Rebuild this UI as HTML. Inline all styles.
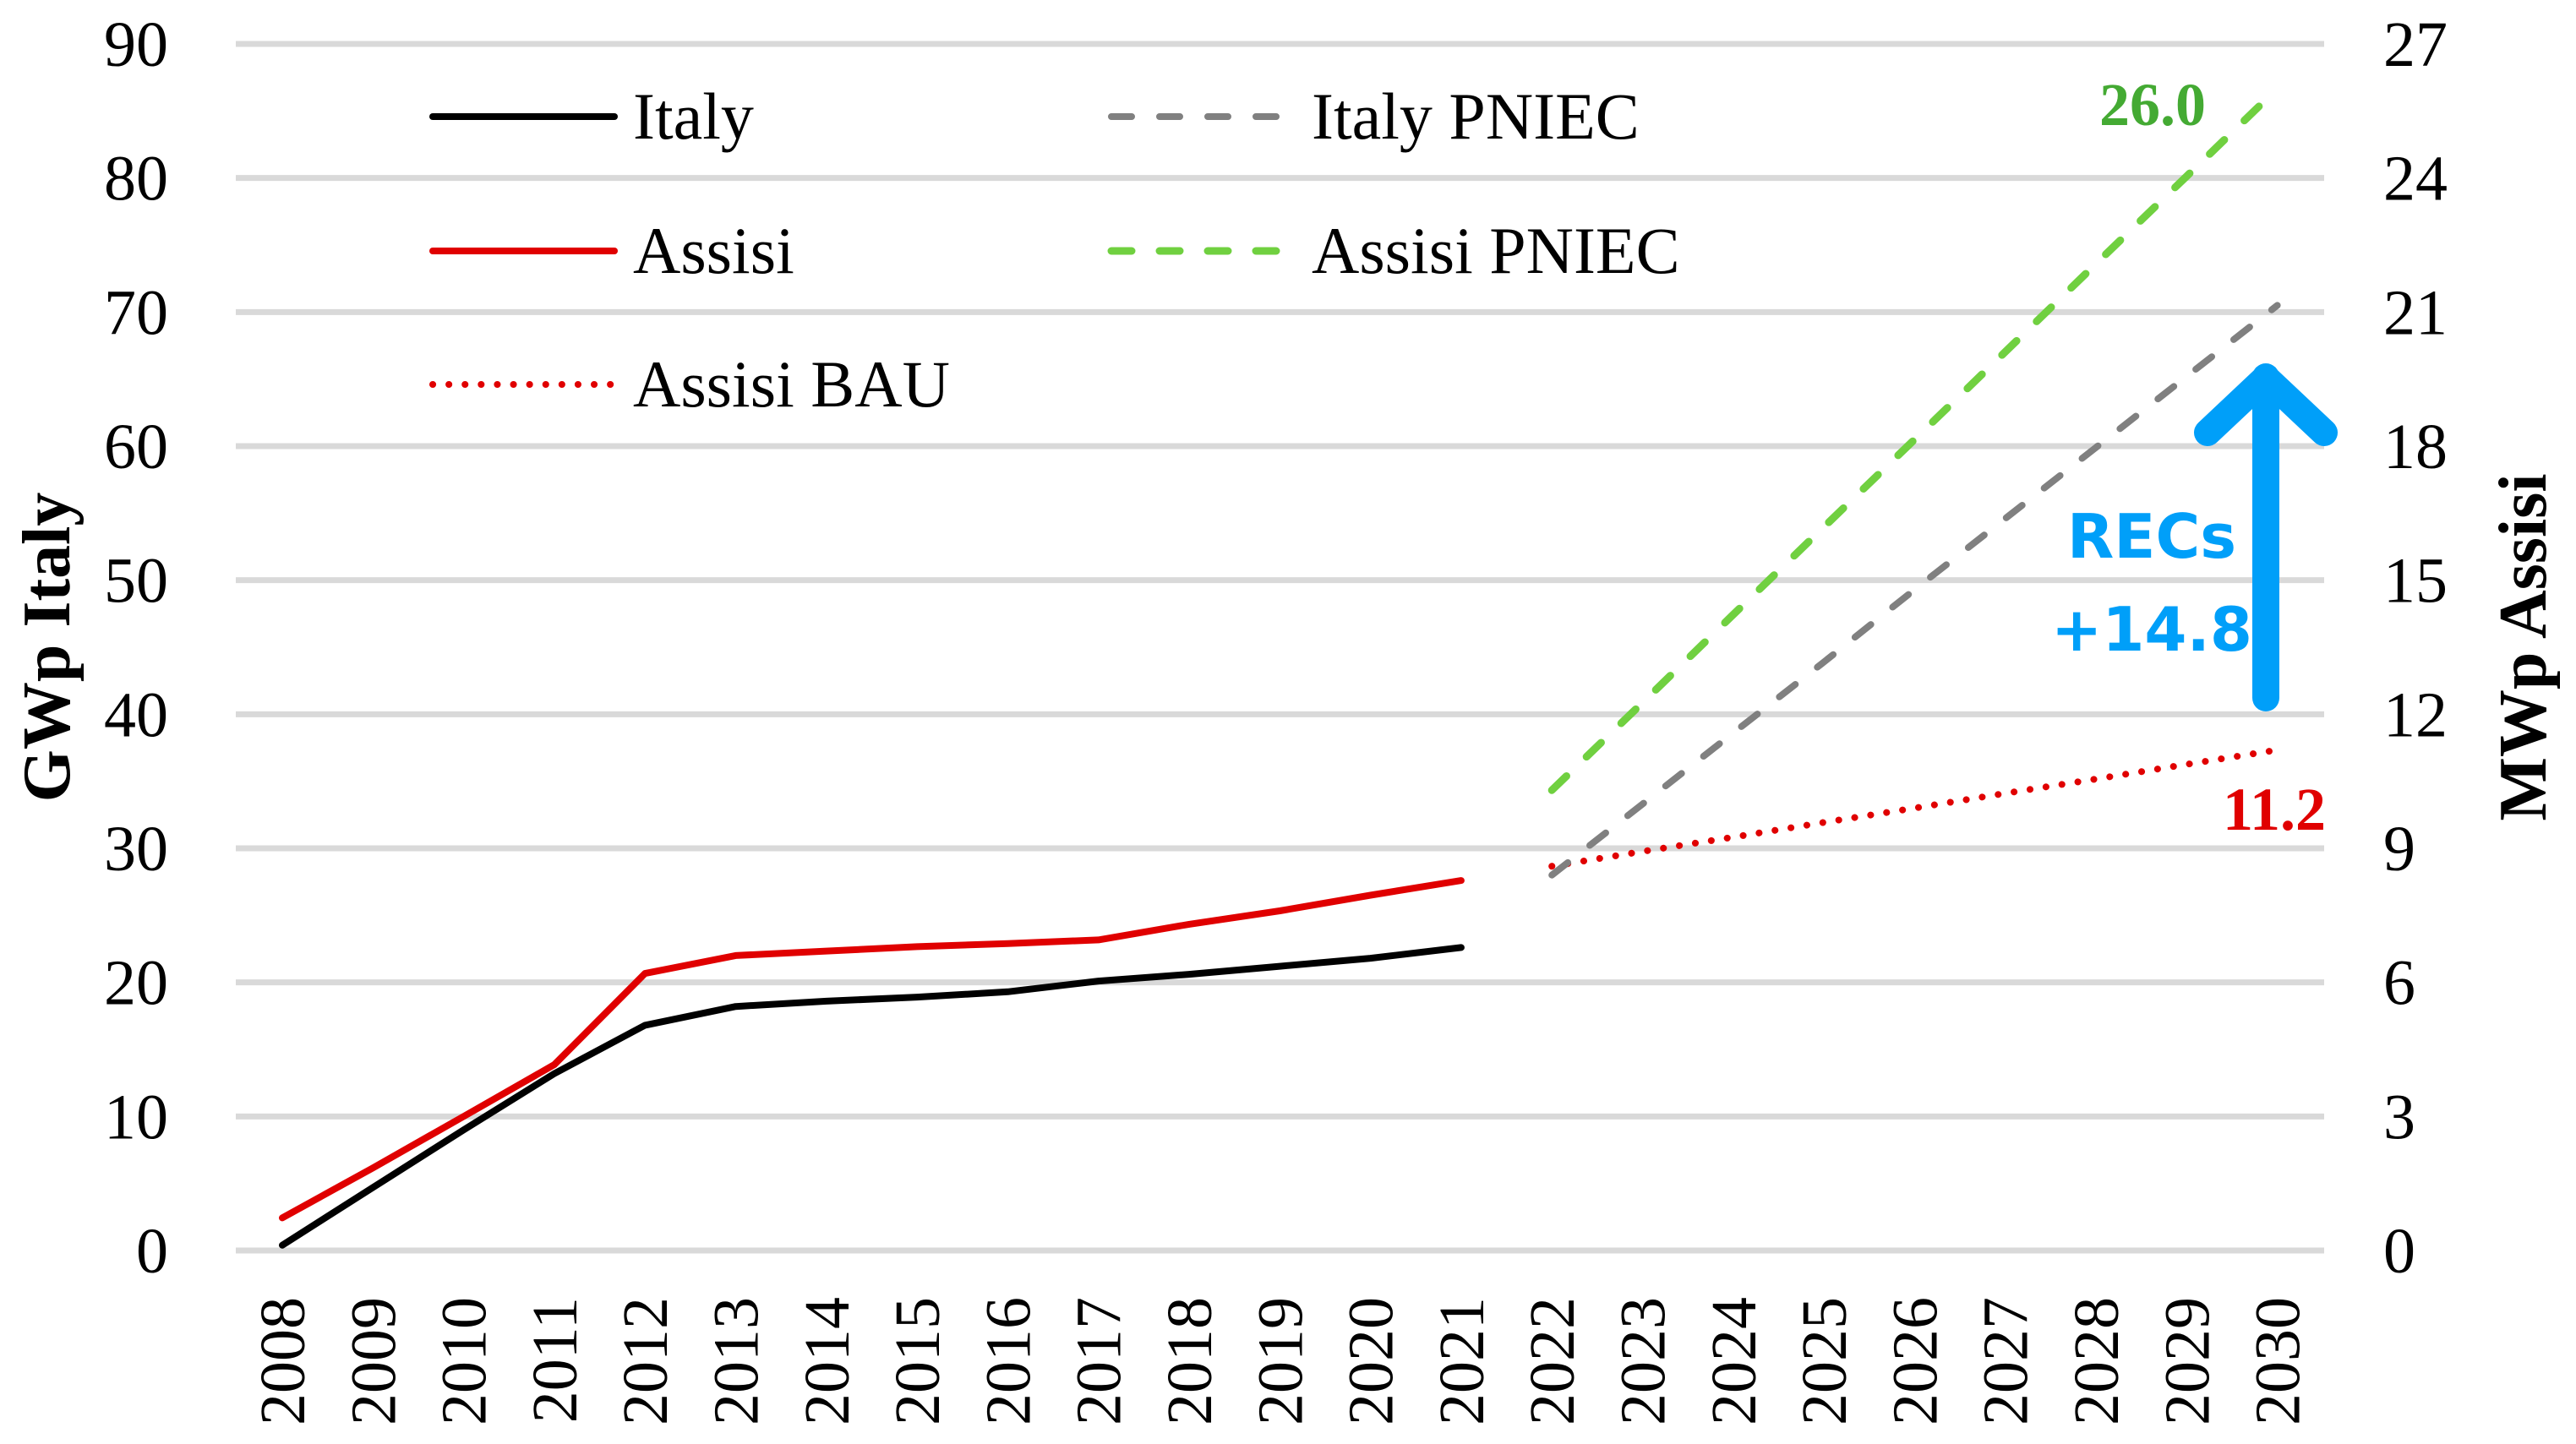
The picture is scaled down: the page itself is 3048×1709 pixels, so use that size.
<!DOCTYPE html>
<html><head><meta charset="utf-8"><style>
html,body{margin:0;padding:0;background:#fff;}
svg{display:block;}
text{font-family:"Liberation Serif",serif;}
</style></head><body>
<svg id="chart" width="3048" height="1709" viewBox="0 0 3048 1709" xmlns="http://www.w3.org/2000/svg">
<g id="grid"></g>
<g id="series"></g>
<g id="axes"></g>
<g id="legend"></g>
<text x="0" y="0" transform="translate(82,766) rotate(-90)" text-anchor="middle" font-weight="bold" font-size="80">GWp Italy</text>
<text x="0" y="0" transform="translate(3012,766) rotate(-90)" text-anchor="middle" font-weight="bold" font-size="80">MWp Assisi</text>
<text x="2547" y="148" text-anchor="middle" font-weight="bold" font-size="72" fill="#44aa33">26.0</text>
<text x="2752" y="982" text-anchor="end" font-weight="bold" font-size="72" fill="#e00000">11.2</text>
<g stroke="#009ff9" stroke-width="32" stroke-linecap="round" stroke-linejoin="round" fill="none">
<line x1="2681" y1="826" x2="2681" y2="446"/>
<polyline points="2612,512 2681,447 2750,512"/>
</g>
<text x="2546" y="660" text-anchor="middle" font-weight="bold" font-size="72" fill="#009ff9" style="font-family:'DejaVu Sans',sans-serif">RECs</text>
<text x="2546" y="770" text-anchor="middle" font-weight="bold" font-size="72" fill="#009ff9" style="font-family:'DejaVu Sans',sans-serif">+14.8</text>
</svg>
<script>
const years = [2008,2009,2010,2011,2012,2013,2014,2015,2016,2017,2018,2019,2020,2021,2022,2023,2024,2025,2026,2027,2028,2029,2030];
const leftTicks = [0,10,20,30,40,50,60,70,80,90];
const rightTicks = [0,3,6,9,12,15,18,21,24,27];
const italyYears = [2008,2009,2010,2011,2012,2013,2014,2015,2016,2017,2018,2019,2020,2021];
const italyGW = [0.4,4.7,9.0,13.2,16.8,18.2,18.6,18.9,19.3,20.1,20.6,21.2,21.8,22.6];
const assisiMW = [0.73,1.85,3.0,4.16,6.2,6.6,6.7,6.8,6.87,6.95,7.3,7.6,7.95,8.28];
const projYears = [2022,2023,2024,2025,2026,2027,2028,2029,2030];
const italyPniecGW = [28.0,33.3,38.6,43.9,49.3,54.6,59.9,65.2,70.5];
const assisiPniecMW = [10.3,12.26,14.23,16.19,18.15,20.11,22.08,24.04,26.0];
const assisiBauMW = [8.6,8.93,9.25,9.58,9.9,10.23,10.55,10.88,11.2];

const NS = 'http://www.w3.org/2000/svg';
const X0 = 334, XSTEP = 107.3, Y0 = 1480, YTOP = 52;
const xs = y => X0 + (y - 2008) * XSTEP;
const yL = v => Y0 - v * (Y0 - YTOP) / 90;
const yR = v => Y0 - v * (Y0 - YTOP) / 27;
function mk(tag, attrs, parent) {
  const e = document.createElementNS(NS, tag);
  for (const k in attrs) e.setAttribute(k, attrs[k]);
  parent.appendChild(e);
  return e;
}
const grid = document.getElementById('grid');
const axes = document.getElementById('axes');
const series = document.getElementById('series');
const legend = document.getElementById('legend');

leftTicks.forEach((t, i) => {
  const l = mk('line', {x1: 279, x2: 2750, y1: yL(t), y2: yL(t), stroke: '#d9d9d9', 'stroke-width': 7}, grid);
  
  
  const tx = mk('text', {x: 199, y: yL(t) + 26, 'text-anchor': 'end', 'font-size': 76}, axes);
  tx.textContent = t;
  
  
});
rightTicks.forEach(t => {
  const tx = mk('text', {x: 2820, y: yR(t) + 26, 'text-anchor': 'start', 'font-size': 76}, axes);
  tx.textContent = t;
  
  
});
years.forEach(yr => {
  const tx = mk('text', {x: 0, y: 0, transform: `translate(${xs(yr) + 26},1535) rotate(-90)`, 'text-anchor': 'end', 'font-size': 76}, axes);
  tx.textContent = yr;
  
  
});

function line(xv, yv, yfn, style, name) {
  const pts = xv.map((x, i) => xs(x).toFixed(1) + ',' + yfn(yv[i]).toFixed(1)).join(' ');
  const p = mk('polyline', Object.assign({points: pts, fill: 'none', 'stroke-linejoin': 'round'}, style), series);
  
  
}
const sItaly = {stroke: '#000', 'stroke-width': 8, 'stroke-linecap': 'round'};
const sAssisi = {stroke: '#e00000', 'stroke-width': 8, 'stroke-linecap': 'round'};
const sItP = {stroke: '#808080', 'stroke-width': 8, 'stroke-linecap': 'round', 'stroke-dasharray': '24 33'};
const sAsP = {stroke: '#70d040', 'stroke-width': 9, 'stroke-linecap': 'round', 'stroke-dasharray': '24 33'};
const sBau = {stroke: '#e00000', 'stroke-width': 8, 'stroke-linecap': 'round', 'stroke-dasharray': '0.1 19'};
line(projYears, assisiBauMW, yR, sBau, 'assisi-bau-line');
line(projYears, italyPniecGW, yL, sItP, 'italy-pniec-line');
line(projYears, assisiPniecMW, yR, sAsP, 'assisi-pniec-line');
line(italyYears, italyGW, yL, sItaly, 'italy-line');
line(italyYears, assisiMW, yR, sAssisi, 'assisi-line');

const legendItems = [
  ['Italy', sItaly, 512, 138],
  ['Assisi', sAssisi, 512, 297],
  ['Assisi BAU', sBau, 512, 455],
  ['Italy PNIEC', sItP, 1315, 138],
  ['Assisi PNIEC', sAsP, 1315, 297]
];
legendItems.forEach(it => {
  const g = mk('g', {}, legend);
  
  
  mk('line', Object.assign({x1: it[2], x2: it[2] + 215, y1: it[3], y2: it[3]}, it[1]), g);
  const t = mk('text', {x: it[2] + 237, y: it[3] + 26, 'font-size': 78}, g);
  t.textContent = it[0];
});
</script>
</body></html>
